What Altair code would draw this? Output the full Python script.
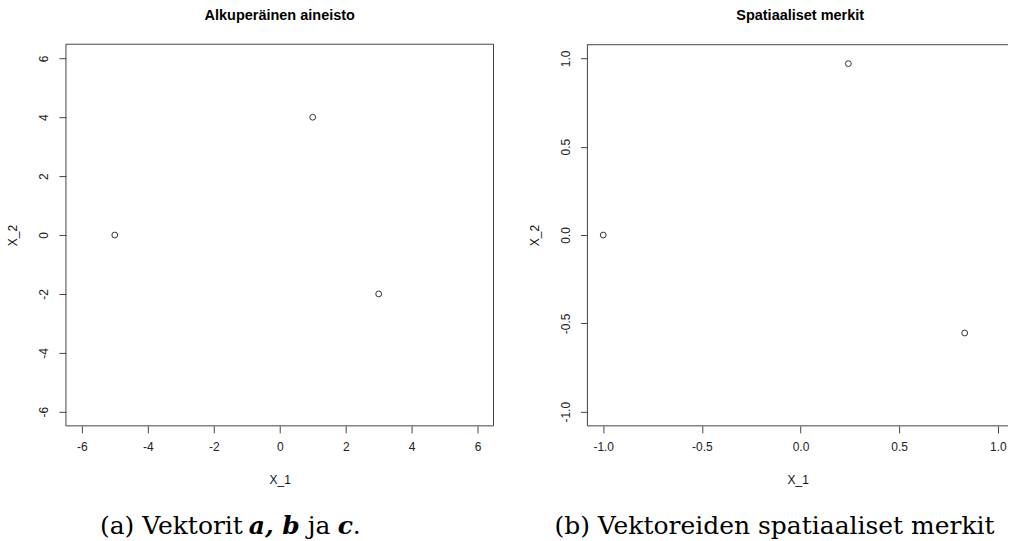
import altair as alt
import pandas as pd

# ---- data ----
x1_orig = [-5, 1, 3]
x2_orig = [0, 4, -2]
x1_sign = [-1.0, 0.2425, 0.8321]
x2_sign = [0.0, 0.9701, -0.5547]

ticks_orig = [-6, -4, -2, 0, 2, 4, 6]
ticks_sign = [-1.0, -0.5, 0.0, 0.5, 1.0]

title_a = "Alkuperäinen aineisto"
title_b = "Spatiaaliset merkit"
axis_x = "X_1"
axis_y = "X_2"

cap_a = [("(a) Vektorit", "normal"), ("a, b", "math"), ("ja", "normal"), ("c", "math"), (".", "normal")]
cap_b = [("(b) Vektoreiden spatiaaliset merkit", "normal")]

# ---- layout ----
W1, W2, H = 428, 421, 382
LINE = "#444444"
SANS = "Liberation Sans"
SERIF = "DejaVu Serif"
MINUS_FIX = "replace(datum.label, '\u2212', '-')"


def axis(values, fmt, orient):
    common = dict(
        values=values, format=fmt, grid=False, domain=False,
        tickSize=7, tickColor=LINE, tickWidth=1, labelExpr=MINUS_FIX,
        labelFont=SANS, labelFontSize=12, labelColor="#222222",
        titleFont=SANS, titleFontSize=12, titleFontWeight="normal", titleColor="#111111",
    )
    if orient == "left":
        return alt.Axis(
            orient="left", labelAngle=270, labelAlign="center", labelBaseline="bottom",
            labelPadding=8, title=axis_y, titleAngle=270, titleBaseline="middle",
            titleX=-53, titleY=H / 2, titleAlign="center", **common,
        )
    return alt.Axis(
        orient="bottom", labelAngle=0, labelAlign="center", labelBaseline="top",
        labelPadding=9, title=axis_x, titleBaseline="alphabetic", titleAlign="center",
        titleY=58, **common,
    )


def text_layer(txt, x, y, size, font, weight="normal", style="normal", align="left", color="#000000"):
    return alt.Chart(pd.DataFrame({"t": [txt]})).mark_text(
        font=font, fontSize=size, fontWeight=weight, fontStyle=style,
        align=align, baseline="alphabetic", color=color,
    ).encode(text="t:N", x=alt.value(x), y=alt.value(y))


def panel(xs, ys, ticks, dom_x, dom_y, fmt, width, title, cap_segments, cap_x, full_box, anchor=False):
    df = pd.DataFrame({"x": xs, "y": ys})
    pts = alt.Chart(df).mark_point(
        shape="circle", filled=False, size=34, stroke="#333333", strokeWidth=1, opacity=1
    ).encode(
        x=alt.X("x:Q", scale=alt.Scale(domain=dom_x, nice=False, zero=False), axis=axis(ticks, fmt, "bottom")),
        y=alt.Y("y:Q", scale=alt.Scale(domain=dom_y, nice=False, zero=False), axis=axis(ticks, fmt, "left")),
    )
    layers = [pts]
    # frame
    if full_box:
        layers.append(alt.Chart(pd.DataFrame({"k": [0]})).mark_rect(fill=None, stroke=LINE, strokeWidth=1).encode(
            x=alt.value(0), x2=alt.value(width), y=alt.value(0), y2=alt.value(H)))
    else:
        layers.append(alt.Chart(pd.DataFrame({"k": [0]})).mark_rule(color=LINE, strokeWidth=1).encode(
            x=alt.value(0), x2=alt.value(width), y=alt.value(0.5)))
        layers.append(alt.Chart(pd.DataFrame({"k": [0]})).mark_rule(color=LINE, strokeWidth=1).encode(
            x=alt.value(0), x2=alt.value(width), y=alt.value(H)))
        layers.append(alt.Chart(pd.DataFrame({"k": [0]})).mark_rule(color=LINE, strokeWidth=1).encode(
            x=alt.value(0), y=alt.value(0), y2=alt.value(H)))
    layers.append(text_layer(title, width / 2 if full_box else 213, -24.5, 14.5, SANS, weight="bold", align="center"))
    for (seg, kind), cx in zip(cap_segments, cap_x):
        if kind == "math":
            layers.append(text_layer(seg, cx, 490, 25, SERIF, weight="bold", style="italic"))
        else:
            layers.append(text_layer(seg, cx, 490, 25, SERIF))
    if anchor:
        layers.append(alt.Chart(pd.DataFrame({"k": [0]})).mark_rect(opacity=0).encode(
            x=alt.value(-66), x2=alt.value(-65), y=alt.value(-44), y2=alt.value(-43)))
    return alt.layer(*layers).properties(width=width, height=H)


left = panel(x1_orig, x2_orig, ticks_orig, [-6.48, 6.48], [-6.48, 6.48], "d", W1, title_a,
             cap_a, [34, 183, 242, 272, 287], True, anchor=True)
right = panel(x1_sign, x2_sign, ticks_sign, [-1.08, 1.0516], [-1.08, 1.08], ".1f", W2, title_b,
              cap_b, [-33], False)

chart = alt.hconcat(left, right, spacing=94, bounds="flush").properties(
    padding=0, background="white"
).configure_view(stroke=None)

chart.save("out.html", embed_options={"renderer": "svg", "actions": False})
